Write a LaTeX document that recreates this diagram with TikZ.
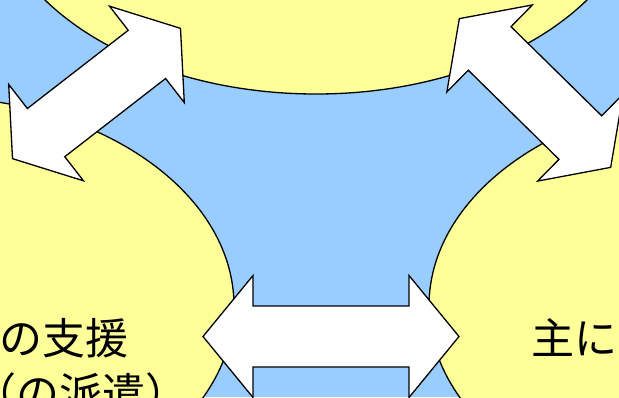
\documentclass[tikz,border=0pt]{standalone}
\usepackage{fontspec}
\newfontfamily\jpfont{Noto Sans CJK JP}
\definecolor{bgblue}{HTML}{99CCFF}
\definecolor{ovalyellow}{HTML}{FFFF99}
\tikzset{
  oval/.style={fill=ovalyellow, draw=black, line width=1.3pt},
  blockarrow/.style={fill=white, draw=black, line width=1.3pt, line join=miter},
  captiontext/.style={font=\jpfont\fontsize{43}{55}\selectfont, inner sep=0pt}
}
\begin{document}
\begin{tikzpicture}[x=1pt, y=-1pt]
  \useasboundingbox (0,0) rectangle (619,397);
  \clip (0,0) rectangle (619,397);
  \fill[bgblue] (0,0) rectangle (619,397);
  % the three ovals
  \foreach \cx/\cy/\rx in {-76/306/310, 739/306/310, 316/-116/325} {
    \draw[oval] (\cx,\cy) ellipse [x radius=\rx pt, y radius=210pt];
  }
  % double arrows between the ovals
  \foreach \ax/\ay/\rot/\len/\head in {331/336.5/0/128/50, 96.5/93.5/37.8/106.3/42.5, 535/93/-44.5/106.1/42.5} {
    \begin{scope}[shift={(\ax,\ay)}, rotate=\rot]
      \draw[blockarrow] (\len,0) -- (\len-\head,61) -- (\len-\head,30.5)
        -- (-\len+\head,30.5) -- (-\len+\head,61) -- (-\len,0)
        -- (-\len+\head,-61) -- (-\len+\head,-30.5) -- (\len-\head,-30.5)
        -- (\len-\head,-61) -- cycle;
    \end{scope}
  }
  \node[captiontext, anchor=base east] (supportline) at (129,354) {の支援};
  \node[captiontext, anchor=base east] (dispatchline) at (189,409) {（の派遣）};
  \node[captiontext, anchor=base west] (mainline) at (531,354) {主に};
\end{tikzpicture}
\end{document}
